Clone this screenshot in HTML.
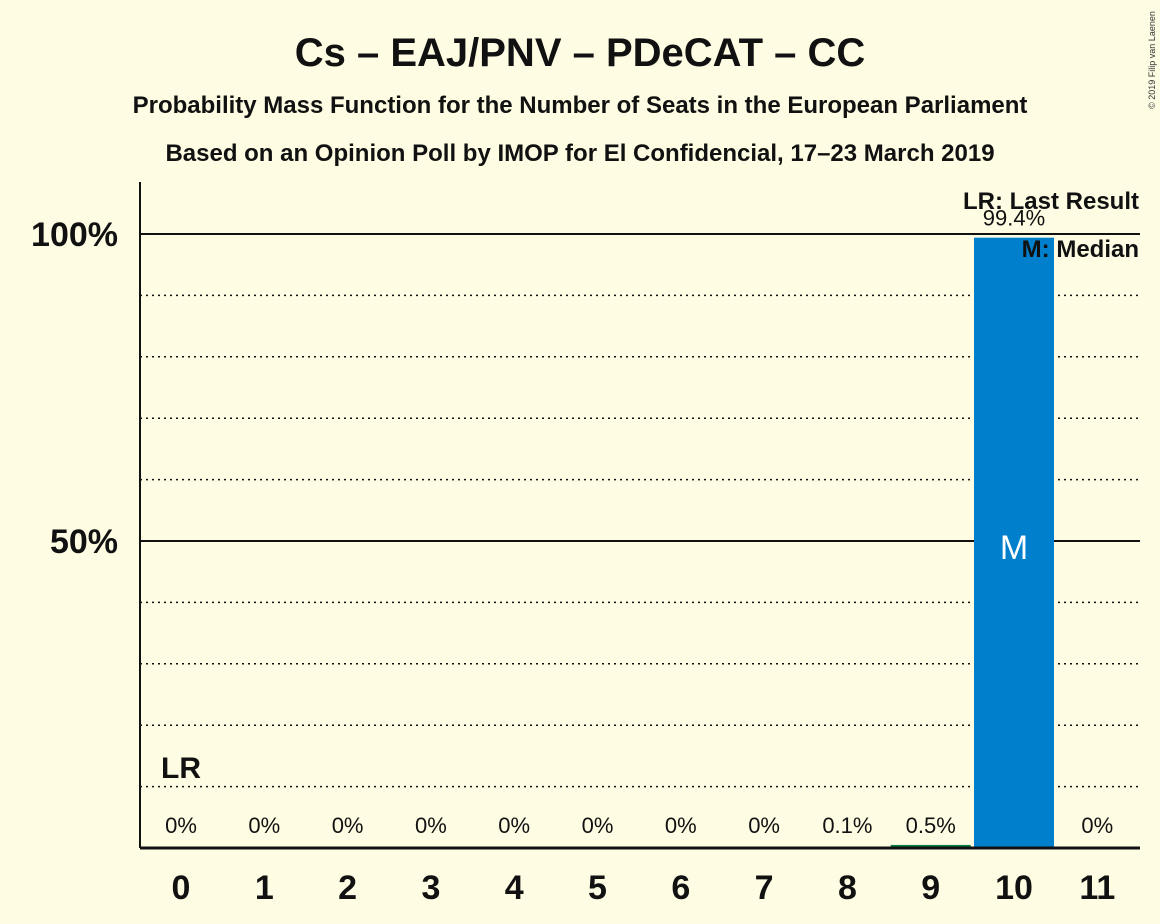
<!DOCTYPE html>
<html><head><meta charset="utf-8"><style>
body{margin:0;background:#fefce3;}
svg{display:block;font-family:"Liberation Sans",sans-serif;}
</style></head><body>
<svg width="1160" height="924" viewBox="0 0 1160 924">
<rect width="1160" height="924" fill="#fefce3"/>
<text x="580" y="66" text-anchor="middle" font-size="40" font-weight="bold" fill="#111">Cs – EAJ/PNV – PDeCAT – CC</text>
<text x="580" y="113" text-anchor="middle" font-size="24" font-weight="bold" fill="#111">Probability Mass Function for the Number of Seats in the European Parliament</text>
<text x="580" y="161" text-anchor="middle" font-size="24" font-weight="bold" fill="#111">Based on an Opinion Poll by IMOP for El Confidencial, 17–23 March 2019</text>
<text x="1155" y="60" font-size="9" fill="#333" transform="rotate(-90 1155 60)" text-anchor="middle">© 2019 Filip van Laenen</text>
<g id="grid"></g>
<g id="bars"></g>
<g id="labels"></g>
<line x1="140" y1="182" x2="140" y2="848" stroke="#111" stroke-width="2"/>
<line x1="140" y1="848" x2="1140" y2="848" stroke="#111" stroke-width="3"/>
<text x="118" y="246" text-anchor="end" font-size="34" font-weight="bold" fill="#111">100%</text>
<text x="118" y="553" text-anchor="end" font-size="34" font-weight="bold" fill="#111">50%</text>
<text x="181" y="778" text-anchor="middle" font-size="30" font-weight="bold" fill="#111">LR</text>
<text x="1139" y="209" text-anchor="end" font-size="24" font-weight="bold" fill="#111">LR: Last Result</text>
<text x="1139" y="257" text-anchor="end" font-size="24" font-weight="bold" fill="#111">M: Median</text>
</svg>
<script>
const seats=[0,1,2,3,4,5,6,7,8,9,10,11];
const probs=[0,0,0,0,0,0,0,0,0.1,0.5,99.4,0];
const probLabels=["0%","0%","0%","0%","0%","0%","0%","0%","0.1%","0.5%","99.4%","0%"];
const medianSeat=10;
const NS="http://www.w3.org/2000/svg";
const xs=s=>181+s*83.3;
const ys=v=>848-v*6.14;
function mk(tag,attrs,parent){const e=document.createElementNS(NS,tag);for(const k in attrs)e.setAttribute(k,attrs[k]);document.getElementById(parent).appendChild(e);return e;}
for(let g=10;g<=100;g+=10){
  const solid=(g===50||g===100);
  const l=mk('line',{x1:140,x2:1140,y1:ys(g),y2:ys(g),stroke:'#111','stroke-width':solid?2:1.5,'stroke-dasharray':solid?'':'2,4'},'grid');
  
  
}
seats.forEach((s,i)=>{
  const v=probs[i];
  const big=v>50;
  const h=Math.max(v*6.14,v>=0.5?2:0);
  if(h>0){
    const r=mk('rect',{x:xs(s)-40,y:848-h,width:80,height:h,fill:big?'#0080cc':'#008040'},'bars');
    
    
  }
  const t=mk('text',{x:xs(s),y:big?ys(v)-12:833,'text-anchor':'middle','font-size':22,fill:'#111'},'labels');
  t.textContent=probLabels[i];
  
  
  const xt=mk('text',{x:xs(s),y:899,'text-anchor':'middle','font-size':34,'font-weight':'bold',fill:'#111'},'labels');
  xt.textContent=s;
  
  
  if(s===medianSeat){
    const m=mk('text',{x:xs(s),y:559,'text-anchor':'middle','font-size':34,fill:'#fff'},'labels');
    m.textContent='M';
    
    
  }
});
</script>
</body></html>
